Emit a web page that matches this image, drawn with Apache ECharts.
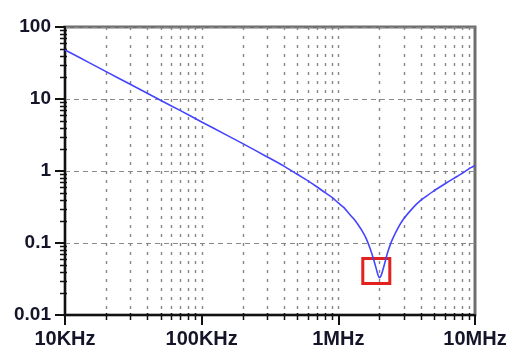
<!DOCTYPE html>
<html>
<head>
<meta charset="utf-8">
<script src="https://cdn.jsdelivr.net/npm/echarts@6/dist/echarts.min.js"></script>
<style>
html,body{margin:0;padding:0;background:#fff;}
#chart{width:511px;height:355px;}
</style>
</head>
<body>
<div id="chart"></div>
<script>
// ---- data ----
const freqHz = [1e4, 1.5e4, 2e4, 3e4, 4e4, 5e4, 7e4, 1e5, 1.5e5, 2e5, 3e5, 4e5, 5e5, 6e5, 7e5, 8e5, 9e5,
  1e6, 1.1e6, 1.2e6, 1.3e6, 1.4e6, 1.5e6, 1.6e6, 1.7e6, 1.8e6, 1.9e6, 1.95e6, 2.0e6, 2.05e6, 2.1e6,
  2.2e6, 2.3e6, 2.4e6, 2.5e6, 2.7e6, 3e6, 3.5e6, 4e6, 4.5e6, 5e6, 6e6, 7e6, 8e6, 9e6, 1e7];
const impedance = [48, 32, 24, 16, 12, 9.6, 6.9, 4.8, 3.2, 2.4, 1.58, 1.17, 0.9, 0.73, 0.6, 0.5, 0.43,
  0.36, 0.31, 0.255, 0.215, 0.178, 0.145, 0.115, 0.086, 0.062, 0.043, 0.036, 0.033, 0.035, 0.04,
  0.055, 0.075, 0.095, 0.115, 0.155, 0.215, 0.305, 0.39, 0.46, 0.53, 0.66, 0.79, 0.92, 1.07, 1.19];
const xTickValues = [1e4, 1e5, 1e6, 1e7];
const xTickLabels = ['10KHz', '100KHz', '1MHz', '10MHz'];
const yTickValues = [0.01, 0.1, 1, 10, 100];
const yTickLabels = ['0.01', '0.1', '1', '10', '100'];
const xGridValues = [2e4, 3e4, 4e4, 5e4, 6e4, 7e4, 8e4, 9e4, 1e5,
  2e5, 3e5, 4e5, 5e5, 6e5, 7e5, 8e5, 9e5, 1e6,
  2e6, 3e6, 4e6, 5e6, 6e6, 7e6, 8e6, 9e6];
const xMinorTicks = [2e4, 3e4, 4e4, 5e4, 6e4, 7e4, 8e4, 9e4,
  2e5, 3e5, 4e5, 5e5, 6e5, 7e5, 8e5, 9e5,
  2e6, 3e6, 4e6, 5e6, 6e6, 7e6, 8e6, 9e6];
const yMinorTicks = [0.02, 0.03, 0.04, 0.05, 0.06, 0.07, 0.08, 0.09,
  0.2, 0.3, 0.4, 0.5, 0.6, 0.7, 0.8, 0.9,
  2, 3, 4, 5, 6, 7, 8, 9,
  20, 30, 40, 50, 60, 70, 80, 90];
const highlightBox = [[1.51e6, 0.061], [2.38e6, 0.0274]];

// ---- chart ----
const X_MIN = xTickValues[0], X_MAX = xTickValues[xTickValues.length - 1];
const Y_MIN = yTickValues[0], Y_MAX = yTickValues[yTickValues.length - 1];

function labelFor(values, labels, v) {
  let best = 0, bd = Infinity;
  values.forEach((t, i) => { const d = Math.abs(Math.log10(t) - Math.log10(v)); if (d < bd) { bd = d; best = i; } });
  return bd < 0.01 ? labels[best] : '';
}

const chart = echarts.init(document.getElementById('chart'), null, { renderer: 'canvas' });
const labelFont = { fontFamily: 'Liberation Sans, Arial, sans-serif', fontWeight: 'bold', color: '#15152a' };

chart.setOption({
  animation: false,
  backgroundColor: '#fff',
  grid: { left: 65, right: 36, top: 27, bottom: 40, show: true, borderColor: '#6e6e6e', borderWidth: 3, backgroundColor: 'transparent' },
  xAxis: {
    type: 'log', logBase: 10, min: X_MIN, max: X_MAX,
    axisLine: { show: true, onZero: false, lineStyle: { color: '#111', width: 2 } },
    axisTick: { show: true, length: 10, lineStyle: { color: '#111', width: 2 } },
    axisLabel: Object.assign({ margin: 14, fontSize: 20, formatter: v => labelFor(xTickValues, xTickLabels, v), showMinLabel: true, showMaxLabel: true }, labelFont),
    splitLine: { show: false },
    minorTick: { show: false }, minorSplitLine: { show: false }
  },
  yAxis: {
    type: 'log', logBase: 10, min: Y_MIN, max: Y_MAX,
    axisLine: { show: true, onZero: false, lineStyle: { color: '#111', width: 2 } },
    axisTick: { show: true, length: 10, lineStyle: { color: '#111', width: 2 } },
    axisLabel: Object.assign({ margin: 14, fontSize: 19, formatter: v => labelFor(yTickValues, yTickLabels, v) }, labelFont),
    splitLine: { show: true, lineStyle: { color: '#8a8a8a', width: 1.2, type: [5, 4] } },
    minorTick: { show: false }, minorSplitLine: { show: false }
  },
  series: [
    {
      name: 'vgrid', type: 'custom', silent: true, z: 1, clip: false,
      data: xGridValues.map(v => [v, Y_MIN]),
      renderItem: function (params, api) {
        const a = api.coord([api.value(0), Y_MAX]);
        const b = api.coord([api.value(0), Y_MIN]);
        return { type: 'line', shape: { x1: Math.round(a[0]) + 0.5, y1: a[1], x2: Math.round(b[0]) + 0.5, y2: b[1] },
          style: { stroke: '#858585', lineWidth: 1.4, lineDash: [3, 6] } };
      }
    },
    {
      name: 'xminor', type: 'custom', silent: true, z: 3, clip: false,
      data: xMinorTicks.map(v => [v, Y_MIN]),
      renderItem: function (params, api) {
        const b = api.coord([api.value(0), Y_MIN]);
        return { type: 'line', shape: { x1: Math.round(b[0]) + 0.5, y1: b[1] - 2, x2: Math.round(b[0]) + 0.5, y2: b[1] + 5 },
          style: { stroke: '#111', lineWidth: 1.5 } };
      }
    },
    {
      name: 'yminor', type: 'custom', silent: true, z: 3, clip: false,
      data: yMinorTicks.map(v => [X_MIN, v]),
      renderItem: function (params, api) {
        const b = api.coord([X_MIN, api.value(1)]);
        return { type: 'line', shape: { x1: b[0] - 5, y1: Math.round(b[1]) + 0.5, x2: b[0] + 2, y2: Math.round(b[1]) + 0.5 },
          style: { stroke: '#111', lineWidth: 1.5 } };
      }
    },
    {
      name: 'Z', type: 'line', z: 5,
      data: freqHz.map((f, i) => [f, impedance[i]]),
      showSymbol: false, smooth: 0.2,
      lineStyle: { color: '#4545ff', width: 1.6 },
      markArea: {
        silent: true,
        itemStyle: { color: 'rgba(0,0,0,0)', borderColor: '#e3211f', borderWidth: 3 },
        data: [[{ coord: highlightBox[0] }, { coord: highlightBox[1] }]]
      }
    }
  ]
});
</script>
</body>
</html>
